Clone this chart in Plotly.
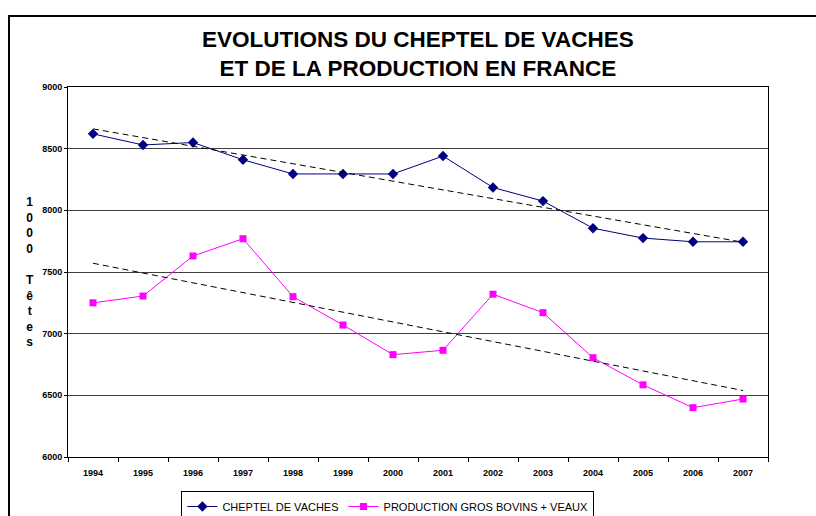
import numpy as np
import plotly.graph_objects as go

years = ["1994", "1995", "1996", "1997", "1998", "1999", "2000",
         "2001", "2002", "2003", "2004", "2005", "2006", "2007"]
cheptel = [8620, 8530, 8550, 8410, 8295, 8295, 8295, 8440, 8185, 8075, 7855, 7775, 7745, 7745]
production = [7250, 7305, 7630, 7770, 7300, 7070, 6830, 6865, 7320, 7170, 6805, 6585, 6400, 6470]
y_ticks = [6000, 6500, 7000, 7500, 8000, 8500, 9000]

title_text = "<b>EVOLUTIONS DU CHEPTEL DE VACHES<br>ET DE LA PRODUCTION EN FRANCE</b>"
y_title = "<b>1<br>0<br>0<br>0<br><br>T<br>ê<br>t<br>e<br>s</b>"
name_a = "CHEPTEL DE VACHES"
name_b = "PRODUCTION GROS BOVINS + VEAUX"

idx = np.arange(len(years))
fit_a = np.polyval(np.polyfit(idx, cheptel, 1), idx)
fit_b = np.polyval(np.polyfit(idx, production, 1), idx)

FONT = "Liberation Sans, Arial, sans-serif"

fig = go.Figure()
fig.add_trace(go.Scatter(x=years, y=cheptel, name=name_a, mode="lines+markers",
                         line=dict(color="#000080", width=1),
                         marker=dict(symbol="diamond", size=8, color="#000080")))
fig.add_trace(go.Scatter(x=years, y=production, name=name_b, mode="lines+markers",
                         line=dict(color="#FF00FF", width=1),
                         marker=dict(symbol="square", size=7, color="#FF00FF")))
fig.add_trace(go.Scatter(x=years, y=fit_a, mode="lines", showlegend=False, hoverinfo="skip",
                         line=dict(color="black", width=1, dash="6px,4px")))
fig.add_trace(go.Scatter(x=years, y=fit_b, mode="lines", showlegend=False, hoverinfo="skip",
                         line=dict(color="black", width=1, dash="6px,4px")))

fig.update_layout(
    width=816, height=516,
    margin=dict(l=68, r=48, t=87, b=59),
    paper_bgcolor="white", plot_bgcolor="white",
    font=dict(family=FONT, color="black"),
    showlegend=True,
    legend=dict(orientation="h", xref="paper", x=0.457, xanchor="center",
                yref="container", y=1 - 491 / 516, yanchor="top",
                bordercolor="black", borderwidth=1, bgcolor="white",
                font=dict(size=11, family=FONT), itemwidth=30, tracegroupgap=0),
    xaxis=dict(type="category", range=[-0.5, 13.5], showgrid=False,
               showline=True, linecolor="black", linewidth=1, mirror=True,
               ticks="outside", ticklen=4, tickcolor="black", tickson="boundaries",
               tickfont=dict(size=9, family=FONT, weight="bold"), ticklabelstandoff=7),
    yaxis=dict(range=[6000, 9000], tickvals=y_ticks, showgrid=True,
               gridcolor="#404040", gridwidth=1,
               showline=True, linecolor="black", linewidth=1, mirror=True,
               ticks="outside", ticklen=3, tickcolor="black",
               tickfont=dict(size=9, family=FONT, weight="bold"), zeroline=False),
    annotations=[
        dict(text=title_text, xref="paper", yref="paper", x=0.5, y=1.089,
             xanchor="center", yanchor="middle", showarrow=False,
             font=dict(size=22.5, family=FONT, color="black")),
        dict(text=y_title, xref="paper", yref="paper", x=-0.054, y=0.50,
             xanchor="center", yanchor="middle", showarrow=False,
             font=dict(size=12, family=FONT, color="black")),
    ],
    shapes=[
        dict(type="rect", xref="paper", yref="paper", x0=-0.0843, x1=1.3, y0=-0.5, y1=1.192,
             line=dict(color="black", width=2), layer="below"),
    ],
)

fig.write_html("out.html", config={"displayModeBar": False},
               post_script="document.body.style.margin='0px';")
